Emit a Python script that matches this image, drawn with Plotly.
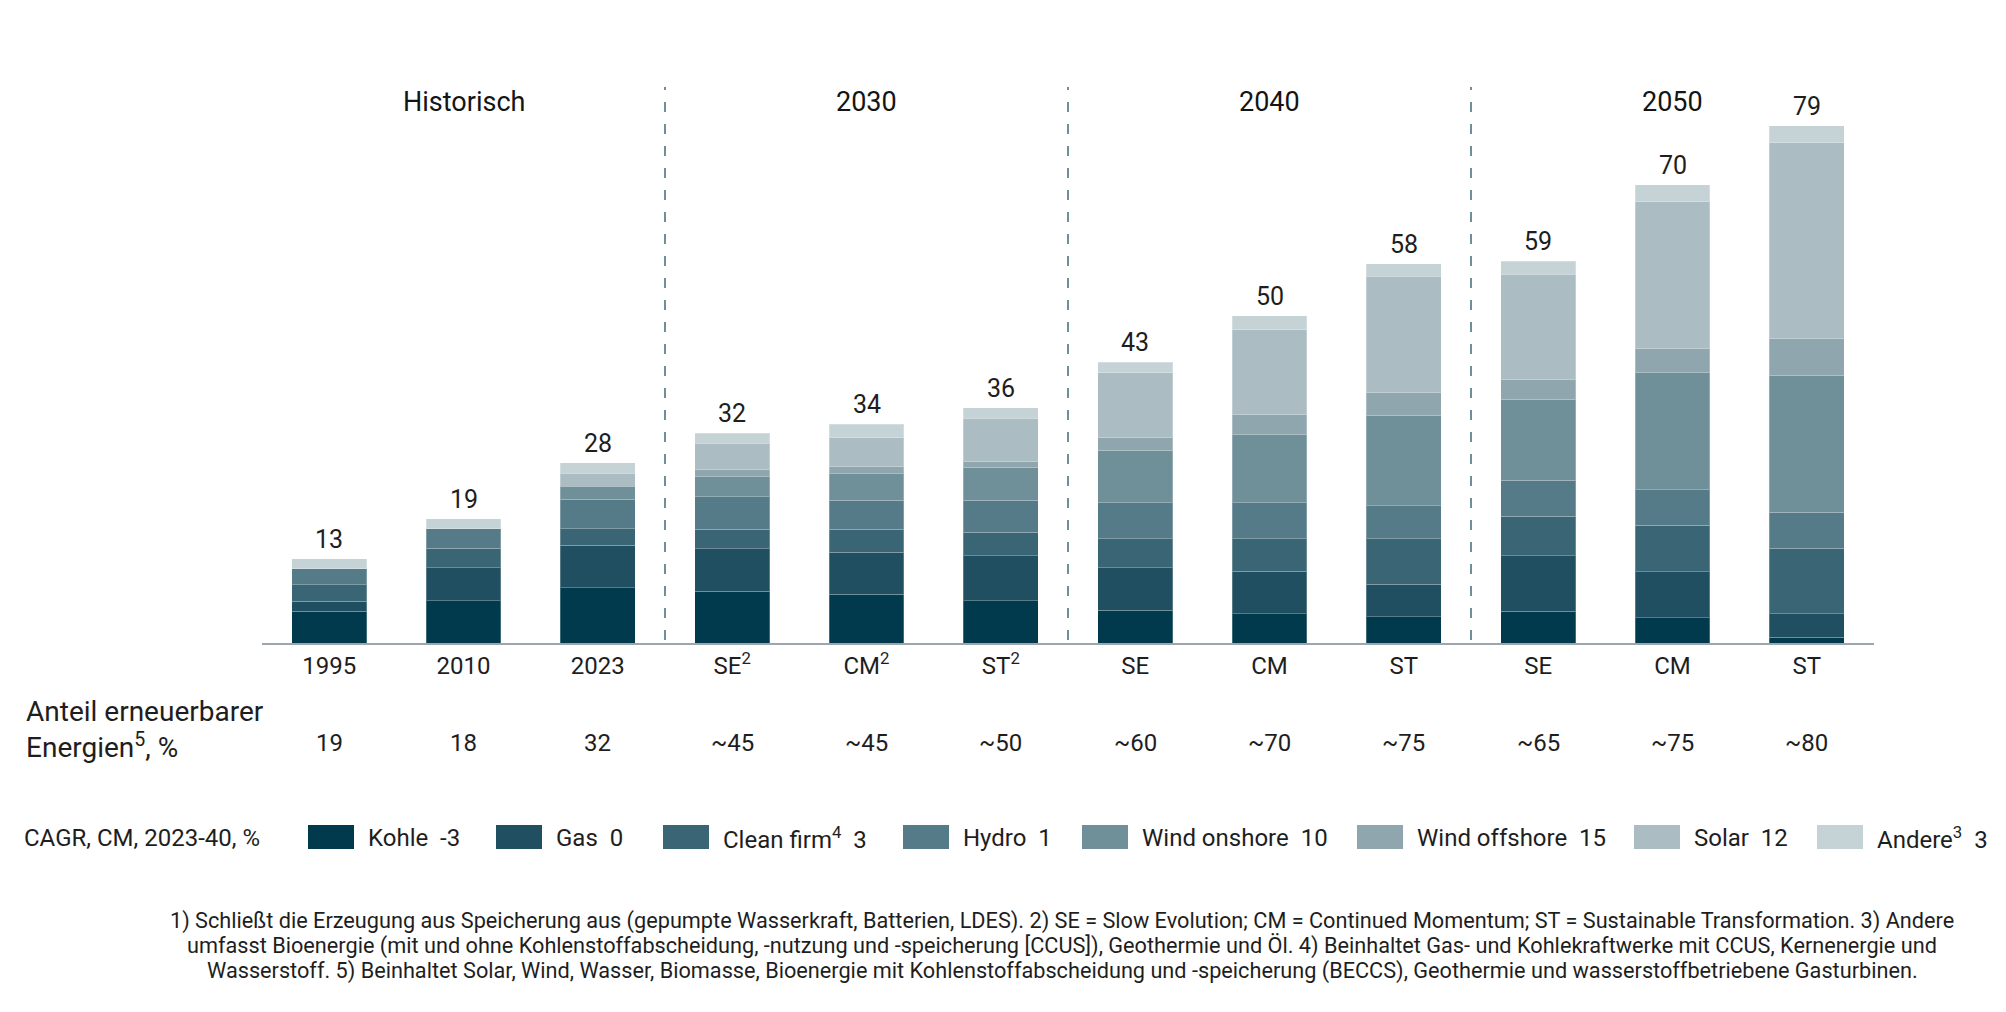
import plotly.graph_objects as go

# ---------------- data ----------------
tick_labels = ["1995", "2010", "2023", "SE<sup>2</sup>", "CM<sup>2</sup>", "ST<sup>2</sup>",
               "SE", "CM", "ST", "SE", "CM", "ST"]
series_names = ["Kohle", "Gas", "Clean firm<sup>4</sup>", "Hydro", "Wind onshore",
                "Wind offshore", "Solar", "Andere<sup>3</sup>"]
cagr = ["-3", "0", "3", "1", "10", "15", "12", "3"]

kohle    = [4.9, 6.5, 8.5, 7.9, 7.5, 6.5, 5.0, 4.5, 4.0, 4.9, 3.9, 0.9]
gas      = [1.5, 5.0, 6.5, 6.5, 6.4, 6.9, 6.5, 6.5, 5.0, 8.5, 7.0, 3.6]
clean    = [2.5, 3.0, 2.5, 3.0, 3.5, 3.6, 4.5, 5.0, 7.0, 6.0, 7.1, 10.0]
hydro    = [2.5, 3.0, 4.5, 5.0, 4.5, 4.9, 5.5, 5.5, 5.0, 5.5, 5.5, 5.5]
onshore  = [0, 0, 2.0, 3.1, 4.0, 5.0, 8.0, 10.4, 13.9, 12.4, 17.9, 21.0]
offshore = [0, 0, 0, 1.1, 1.1, 0.9, 2.0, 3.1, 3.5, 3.1, 3.7, 5.7]
solar    = [0, 0, 2.0, 4.0, 4.4, 6.6, 9.9, 13.0, 17.8, 16.1, 22.5, 29.9]
andere   = [1.5, 1.5, 1.6, 1.5, 2.1, 1.6, 1.6, 2.1, 1.9, 2.0, 2.6, 2.6]

totals = [13, 19, 28, 32, 34, 36, 43, 50, 58, 59, 70, 79]
renewable_share = ["19", "18", "32", "~45", "~45", "~50", "~60", "~70", "~75", "~65", "~75", "~80"]
group_labels = ["Historisch", "2030", "2040", "2050"]
group_centers = [1, 4, 7, 10]
group_dividers = [2.5, 5.5, 8.5]

row_label = "Anteil erneuerbarer<br>Energien<sup>5</sup>, %"
legend_title = "CAGR, CM, 2023-40, %"
footnote_lines = [
    "1) Schließt die Erzeugung aus Speicherung aus (gepumpte Wasserkraft, Batterien, LDES). "
    "2) SE = Slow Evolution; CM = Continued Momentum; ST = Sustainable Transformation. 3) Andere",
    "umfasst Bioenergie (mit und ohne Kohlenstoffabscheidung, -nutzung und -speicherung [CCUS]), "
    "Geothermie und Öl. 4) Beinhaltet Gas- und Kohlekraftwerke mit CCUS, Kernenergie und",
    "Wasserstoff. 5) Beinhaltet Solar, Wind, Wasser, Biomasse, Bioenergie mit "
    "Kohlenstoffabscheidung und -speicherung (BECCS), Geothermie und wasserstoffbetriebene Gasturbinen.",
]

series = [kohle, gas, clean, hydro, onshore, offshore, solar, andere]

# ---------------- style ----------------
colors = ["#003a4c", "#1f4f60", "#3a6575", "#557a88", "#6f8f99", "#8fa6af", "#abbcc3", "#c5d3d7"]
W, H = 2006, 1012
OFF = 8                 # page body margin
FONT = "Roboto"
TXT = "#1e1e1e"
X0, X1 = 262, 1874      # plot area (page px)
Y0, Y1 = 88, 643


def px(x):
    return (x - OFF) / W


def py(y):
    return 1 - (y - OFF) / H


x = list(range(len(tick_labels)))

fig = go.Figure()
for name, vals, col in zip(series_names, series, colors):
    fig.add_trace(go.Bar(
        x=x, y=[v if v else None for v in vals], name=name,
        marker=dict(color=col, line=dict(color="rgba(255,255,255,0.25)", width=1)),
        showlegend=False, hoverinfo="skip",
    ))

stack_tops = [sum(s[i] for s in series) for i in x]

annotations = []
# total labels
for i, t in enumerate(totals):
    annotations.append(dict(x=i, y=stack_tops[i], xref="x", yref="y", text=str(t),
                            showarrow=False, yanchor="bottom", yshift=3,
                            font=dict(family=FONT, size=25, color=TXT)))
# group headers
for g, c in zip(group_labels, group_centers):
    annotations.append(dict(x=c, y=py(102), xref="x", yref="paper", text=g, showarrow=False,
                            yanchor="middle", font=dict(family=FONT, size=27, color="#141414")))
# renewable share row
annotations.append(dict(x=px(24), y=py(729), xref="paper", yref="paper", text=row_label,
                        showarrow=False, xanchor="left", yanchor="middle", align="left",
                        font=dict(family=FONT, size=28, color=TXT)))
for i, s in enumerate(renewable_share):
    annotations.append(dict(x=i, y=py(743), xref="x", yref="paper", text=s, showarrow=False,
                            yanchor="middle", font=dict(family=FONT, size=24, color=TXT)))
# legend
annotations.append(dict(x=px(22), y=py(838), xref="paper", yref="paper", text=legend_title,
                        showarrow=False, xanchor="left", yanchor="middle",
                        font=dict(family=FONT, size=24, color=TXT)))
legend_x = [308, 496, 663, 903, 1082, 1357, 1634, 1817]
shapes = []
for lx, name, cg, col in zip(legend_x, series_names, cagr, colors):
    shapes.append(dict(type="rect", xref="paper", yref="paper", x0=px(lx), x1=px(lx + 46),
                       y0=py(849), y1=py(825), fillcolor=col, line=dict(width=0)))
    annotations.append(dict(x=px(lx + 58), y=py(838), xref="paper", yref="paper",
                            text=f"{name}\u00a0\u00a0{cg}", showarrow=False, xanchor="left",
                            yanchor="middle", font=dict(family=FONT, size=24, color=TXT)))
# footnote
for k, line in enumerate(footnote_lines):
    annotations.append(dict(x=px(1062), y=py(921 + 25 * k), xref="paper", yref="paper", text=line,
                            showarrow=False, xanchor="center", yanchor="middle",
                            font=dict(family=FONT, size=21.7, color=TXT)))

# dashed dividers
for d in group_dividers:
    shapes.append(dict(type="line", xref="x", yref="paper", x0=d, x1=d, y0=py(640), y1=py(87),
                       line=dict(color="#6f8f99", width=2, dash="10px,12px")))

fig.update_layout(
    width=W, height=H, barmode="stack", bargap=0.442,
    margin=dict(l=0, r=0, t=0, b=0),
    plot_bgcolor="white", paper_bgcolor="white",
    font=dict(family=FONT, color=TXT),
    xaxis=dict(domain=[px(X0), px(X1)], range=[-0.5, 11.5], tickmode="array", tickvals=x,
               ticktext=tick_labels, showline=True, linecolor="#9ba6ae", linewidth=2,
               showgrid=False, zeroline=False, ticks="",
               tickfont=dict(family=FONT, size=24, color=TXT)),
    yaxis=dict(domain=[py(Y1), py(Y0)], range=[0, 85], visible=False),
    annotations=annotations, shapes=shapes,
)

fig.write_html("out.html")
